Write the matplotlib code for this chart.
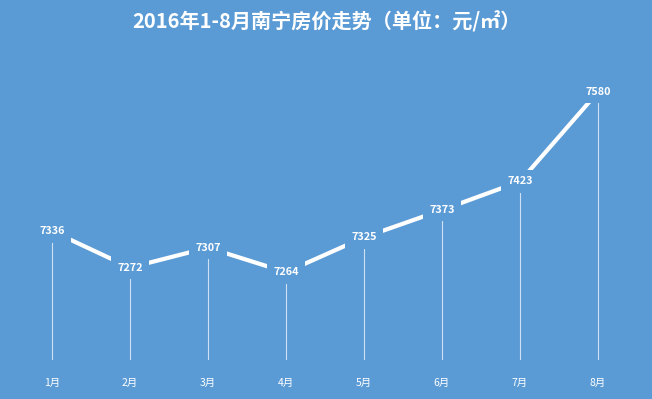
import matplotlib
matplotlib.use("Agg")
import matplotlib.pyplot as plt

plt.rcParams['font.family'] = ['Noto Sans CJK SC', 'DejaVu Sans']

months = ["1月", "2月", "3月", "4月", "5月", "6月", "7月", "8月"]
prices = [7336, 7272, 7307, 7264, 7325, 7373, 7423, 7580]
title = "2016年1-8月南宁房价走势（单位：元/㎡）"

bg = "#5B9BD5"
fig = plt.figure(figsize=(6.52, 3.99), dpi=100, facecolor=bg)
ax = fig.add_axes([0, 0.0977, 1, 0.752], facecolor=bg)
x = list(range(len(prices)))
ymin = 7110
ax.set_xlim(-52/78, 600/78)
ax.set_ylim(ymin, 7636)

ax.vlines(x, ymin, prices, color="white", lw=0.8, alpha=0.7, zorder=1)
ax.plot(x, prices, color="white", lw=3, solid_capstyle="butt", zorder=2)
for xi, v in zip(x, prices):
    ax.text(xi, v, str(v), ha="center", va="center", color="white",
            fontsize=7.8, fontweight="bold", zorder=3,
            bbox=dict(boxstyle="square,pad=0.6", fc=bg, ec="none"))

for xi, m in zip(x, months):
    fig.text((52 + 78*xi)/652, 1 - 383/399, m, ha="center", va="center",
             color="white", fontsize=7.5)

for s in ax.spines.values():
    s.set_visible(False)
ax.set_xticks([])
ax.set_yticks([])

fig.text(0.5, 1 - 22/399, title, ha="center", va="center", color="white",
         fontsize=14.5, fontweight="bold")

fig.savefig("out.png", dpi=100, facecolor=bg)
